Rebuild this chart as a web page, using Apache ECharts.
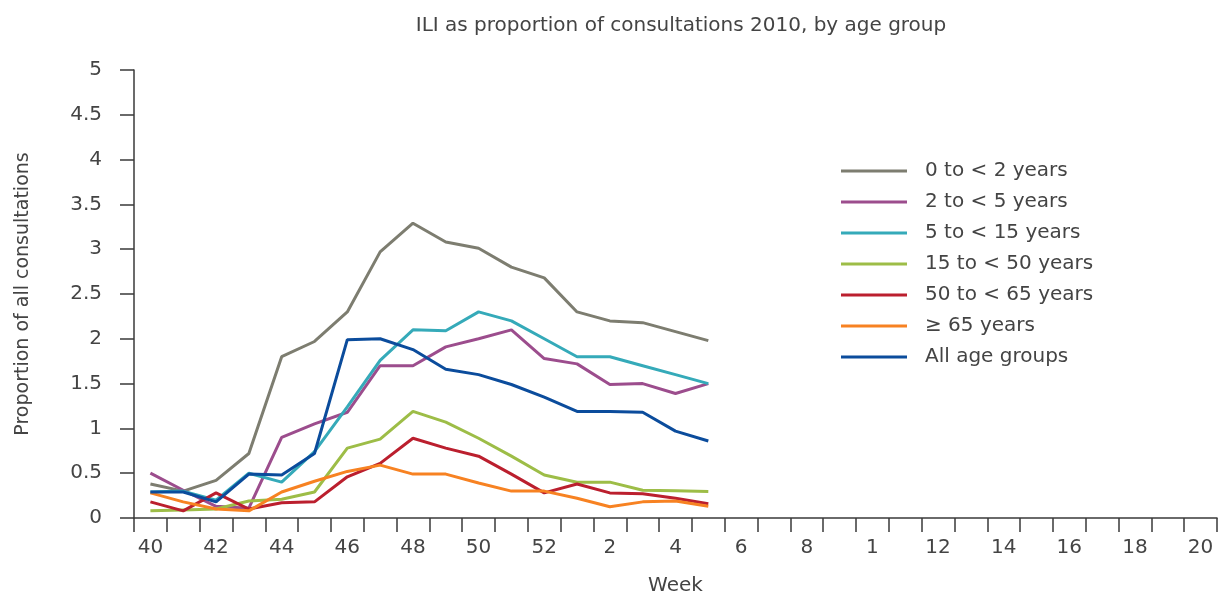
<!DOCTYPE html>
<html>
<head>
<meta charset="utf-8">
<script src="https://cdn.jsdelivr.net/npm/echarts@6/dist/echarts.min.js"></script>
<style>
html,body{margin:0;padding:0;background:#fff;}
#chart{width:1226px;height:601px;}
</style>
</head>
<body>
<div id="chart"></div>
<script>
const weeks = ['40','41','42','43','44','45','46','47','48','49','50','51','52',
  '1','2','3','4','5','6','7','8','9','10','11','12','13','14','15','16','17','18','19','20'];
const seriesNames = ['0 to < 2 years','2 to < 5 years','5 to < 15 years','15 to < 50 years','50 to < 65 years','\u2265 65 years','All age groups'];
const age0to2   = [0.38,0.30,0.42,0.72,1.80,1.97,2.30,2.97,3.29,3.08,3.01,2.80,2.68,2.30,2.20,2.18,2.08,1.98];
const age2to5   = [0.50,0.31,0.13,0.11,0.90,1.05,1.18,1.70,1.70,1.91,2.00,2.10,1.78,1.72,1.49,1.50,1.39,1.50];
const age5to15  = [0.29,0.30,0.20,0.50,0.40,0.74,1.24,1.76,2.10,2.09,2.30,2.20,2.00,1.80,1.80,1.70,1.60,1.50];
const age15to50 = [0.08,0.09,0.10,0.19,0.21,0.29,0.78,0.88,1.19,1.07,0.89,0.69,0.48,0.40,0.40,0.31,0.305,0.295];
const age50to65 = [0.18,0.08,0.28,0.10,0.17,0.18,0.46,0.61,0.89,0.78,0.69,0.49,0.28,0.38,0.28,0.27,0.22,0.16];
const age65plus = [0.28,0.18,0.10,0.08,0.29,0.41,0.52,0.59,0.49,0.49,0.39,0.30,0.30,0.22,0.125,0.18,0.19,0.13];
const allAges   = [0.29,0.29,0.18,0.49,0.48,0.72,1.99,2.00,1.88,1.66,1.60,1.49,1.35,1.19,1.19,1.18,0.97,0.86];
const colors = ['#7d7d70','#9c4d8d','#35aab9','#9dbd47','#bb1f2e','#f78222','#0b4c9c'];
const allData = [age0to2, age2to5, age5to15, age15to50, age50to65, age65plus, allAges];

const font = '"DejaVu Sans", "Open Sans", sans-serif';
const txt = '#444';
const chart = echarts.init(document.getElementById('chart'), null, {renderer:'canvas'});
chart.setOption({
  animation:false,
  backgroundColor:'#fff',
  title:{
    text:'ILI as proportion of consultations 2010, by age group',
    left:676, textAlign:'center', top:11,
    textStyle:{fontFamily:font, fontSize:20, fontWeight:'normal', color:txt}
  },
  legend:{
    orient:'vertical', left:841, top:161, padding:0,
    icon:'rect', itemWidth:66, itemHeight:3, itemGap:11,
    textStyle:{fontFamily:font, fontSize:20, color:txt, lineHeight:20, padding:[0,0,0,13]},
    data:seriesNames
  },
  grid:{left:134, right:9, top:70, bottom:78},
  xAxis:{
    type:'category', data:weeks, boundaryGap:true,
    name:'Week', nameLocation:'middle', nameGap:58,
    nameTextStyle:{fontFamily:font, fontSize:20, color:txt},
    axisLine:{lineStyle:{color:'#3a3a3a', width:1.5}},
    axisTick:{show:true, interval:0, length:14, lineStyle:{color:'#3a3a3a', width:1.5}},
    axisLabel:{interval:1, margin:20, fontFamily:font, fontSize:20, color:txt,
      formatter:function(v){ return v === '10' ? '1' : v; }},
    splitLine:{show:false}
  },
  yAxis:{
    type:'value', min:0, max:5, interval:0.5,
    name:'Proportion of all consultations', nameLocation:'middle', nameGap:101, nameRotate:90,
    nameTextStyle:{fontFamily:font, fontSize:19, color:txt},
    axisLine:{show:true, lineStyle:{color:'#3a3a3a', width:1.5}},
    axisTick:{show:true, length:14, lineStyle:{color:'#3a3a3a', width:1.5}},
    axisLabel:{margin:32, fontFamily:font, fontSize:20, color:txt},
    splitLine:{show:false}
  },
  series: allData.map(function(d,i){
    return {
      name:seriesNames[i], type:'line', data:d, symbol:'none',
      lineStyle:{color:colors[i], width:3}, itemStyle:{color:colors[i]}
    };
  })
});
</script>
</body>
</html>
